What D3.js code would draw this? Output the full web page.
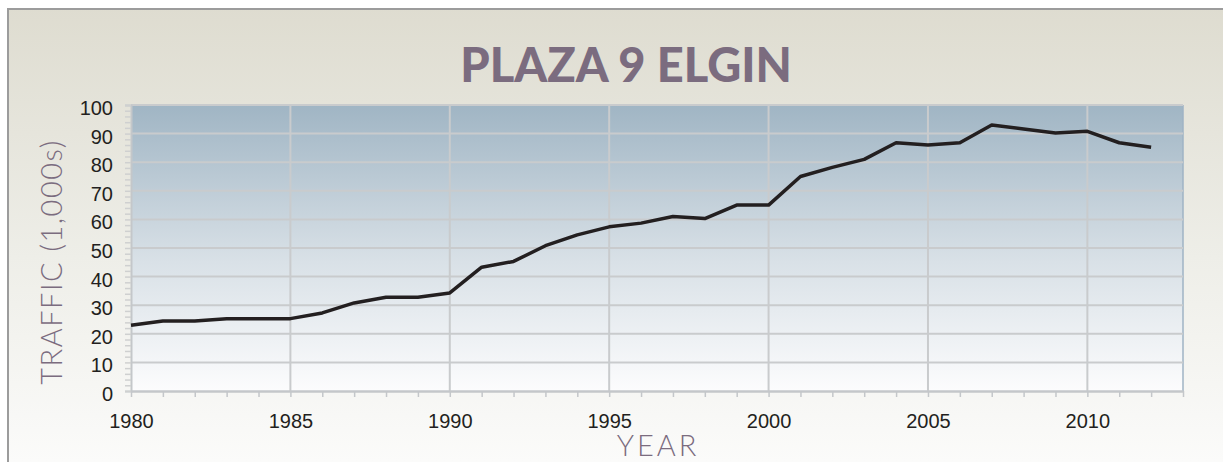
<!DOCTYPE html>
<html lang="en">
<head>
  <meta charset="utf-8">
  <script src="https://d3js.org/d3.v7.min.js"></script>
  <style>
    body { margin: 0; background: #fff; }
    svg { display: block; }
  </style>
</head>
<body>
<svg width="1223" height="462"></svg>
<script>
  // data
  var years = d3.range(1980, 2013);
  var traffic = [23, 24.5, 24.5, 25.3, 25.3, 25.3, 27.3, 30.8, 32.8, 32.8,
                 34.3, 43.3, 45.3, 50.8, 54.6, 57.4, 58.7, 61, 60.3, 65,
                 65, 75, 78.2, 81, 86.8, 86, 86.8, 93, 91.6, 90.2,
                 90.8, 86.8, 85.2];
  var yTicks = [0, 10, 20, 30, 40, 50, 60, 70, 80, 90, 100];
  var xTicks = [1980, 1985, 1990, 1995, 2000, 2005, 2010];

  var svg = d3.select("svg");
  var defs = svg.append("defs");

  var bg = defs.append("linearGradient").attr("id", "bg")
    .attr("x1", 0).attr("y1", 0).attr("x2", 0).attr("y2", 1);
  bg.append("stop").attr("offset", "0%").attr("stop-color", "#dedcd0");
  bg.append("stop").attr("offset", "55%").attr("stop-color", "#eeeee8");
  bg.append("stop").attr("offset", "100%").attr("stop-color", "#fbfbfa");

  var pg = defs.append("linearGradient").attr("id", "plotbg")
    .attr("x1", 0).attr("y1", 0).attr("x2", 0).attr("y2", 1);
  pg.append("stop").attr("offset", "0%").attr("stop-color", "#a0b5c4");
  pg.append("stop").attr("offset", "55%").attr("stop-color", "#d9e1e7");
  pg.append("stop").attr("offset", "100%").attr("stop-color", "#fcfcfd");

  // outer frame
  svg.append("rect").attr("x", 7).attr("y", 8).attr("width", 1216).attr("height", 454)
    .attr("fill", "url(#bg)");
  svg.append("path").attr("d", "M8,462V9H1223")
    .attr("fill", "none").attr("stroke", "#9c9c9c").attr("stroke-width", 2);

  var x = d3.scaleLinear().domain([1980, 2013]).range([131, 1183]);
  var y = d3.scaleLinear().domain([0, 100]).range([391, 105]);

  // plot area
  svg.append("rect")
    .attr("x", x(1980)).attr("y", y(100))
    .attr("width", x(2013) - x(1980)).attr("height", y(0) - y(100))
    .attr("fill", "url(#plotbg)");
  svg.append("line")
    .attr("x1", x(2013)).attr("x2", x(2013)).attr("y1", y(100)).attr("y2", y(0))
    .attr("stroke", "#9fb3c4").attr("stroke-width", 1.5);

  // grid
  svg.append("g").selectAll("line").data(yTicks.slice(1)).enter().append("line")
    .attr("x1", x(1980)).attr("x2", x(2013))
    .attr("y1", function(d) { return y(d); }).attr("y2", function(d) { return y(d); })
    .attr("stroke", "#c9cbcd").attr("stroke-width", 2);
  svg.append("g").selectAll("line").data(xTicks.slice(1)).enter().append("line")
    .attr("x1", function(d) { return x(d); }).attr("x2", function(d) { return x(d); })
    .attr("y1", y(100)).attr("y2", y(0))
    .attr("stroke", "#c9cbcd").attr("stroke-width", 2);

  // y axis with small ticks every 2
  var yAxis = svg.append("g").attr("transform", "translate(" + x(1980) + ",0)")
    .call(d3.axisLeft(y).tickValues(d3.range(0, 101, 2)).tickSize(6).tickFormat(""));
  yAxis.select(".domain").attr("stroke", "#c4c7ca").attr("stroke-width", 2);
  yAxis.selectAll(".tick line").attr("stroke", "#cfd0d0").attr("stroke-width", 1.5);

  svg.append("g").selectAll("text").data(yTicks).enter().append("text")
    .attr("x", 113)
    .attr("y", function(d) { return y(d) + 10; })
    .attr("text-anchor", "end")
    .attr("font-family", "Liberation Sans, Arial, sans-serif")
    .attr("font-size", "20px")
    .attr("fill", "#231f20")
    .text(function(d) { return d; });

  // x axis with ticks every year
  var xAxis = svg.append("g").attr("transform", "translate(0," + y(0) + ")")
    .call(d3.axisBottom(x).tickValues(d3.range(1980, 2014)).tickSize(6).tickSizeOuter(0)
      .tickFormat(function(d) { return xTicks.indexOf(d) >= 0 ? d : ""; }));
  xAxis.select(".domain").attr("stroke", "#c4c7ca").attr("stroke-width", 2.5);
  xAxis.selectAll(".tick line").attr("stroke", "#c4c7ca").attr("stroke-width", 1.5);
  xAxis.selectAll(".tick text")
    .attr("font-family", "Liberation Sans, Arial, sans-serif")
    .attr("font-size", "20px")
    .attr("fill", "#231f20")
    .attr("dy", null).attr("y", 37);

  // line
  var line = d3.line()
    .x(function(d, i) { return x(years[i]); })
    .y(function(d) { return y(d); });
  svg.append("path").datum(traffic)
    .attr("d", line)
    .attr("fill", "none")
    .attr("stroke", "#231f20")
    .attr("stroke-width", 3.5)
    .attr("stroke-linejoin", "round");

  // titles
  svg.append("text")
    .attr("x", 626).attr("y", 82)
    .attr("text-anchor", "middle")
    .attr("font-family", "Lato, 'Open Sans', sans-serif")
    .attr("font-weight", 900)
    .attr("font-size", "47px")
    .attr("fill", "#7b6c7f")
    .text("PLAZA 9 ELGIN");

  svg.append("text")
    .attr("transform", "translate(62,262) rotate(-90)")
    .attr("text-anchor", "middle")
    .attr("font-family", "Lato, 'Open Sans', sans-serif")
    .attr("font-weight", 300)
    .attr("font-size", "29px")
    .attr("letter-spacing", "1.5px")
    .attr("fill", "#7b6c7f")
    .text("TRAFFIC (1,000s)");

  svg.append("text")
    .attr("x", 658).attr("y", 456)
    .attr("text-anchor", "middle")
    .attr("font-family", "Lato, 'Open Sans', sans-serif")
    .attr("font-weight", 300)
    .attr("font-size", "29px")
    .attr("letter-spacing", "3px")
    .attr("fill", "#7b6c7f")
    .text("YEAR");
</script>
</body>
</html>
